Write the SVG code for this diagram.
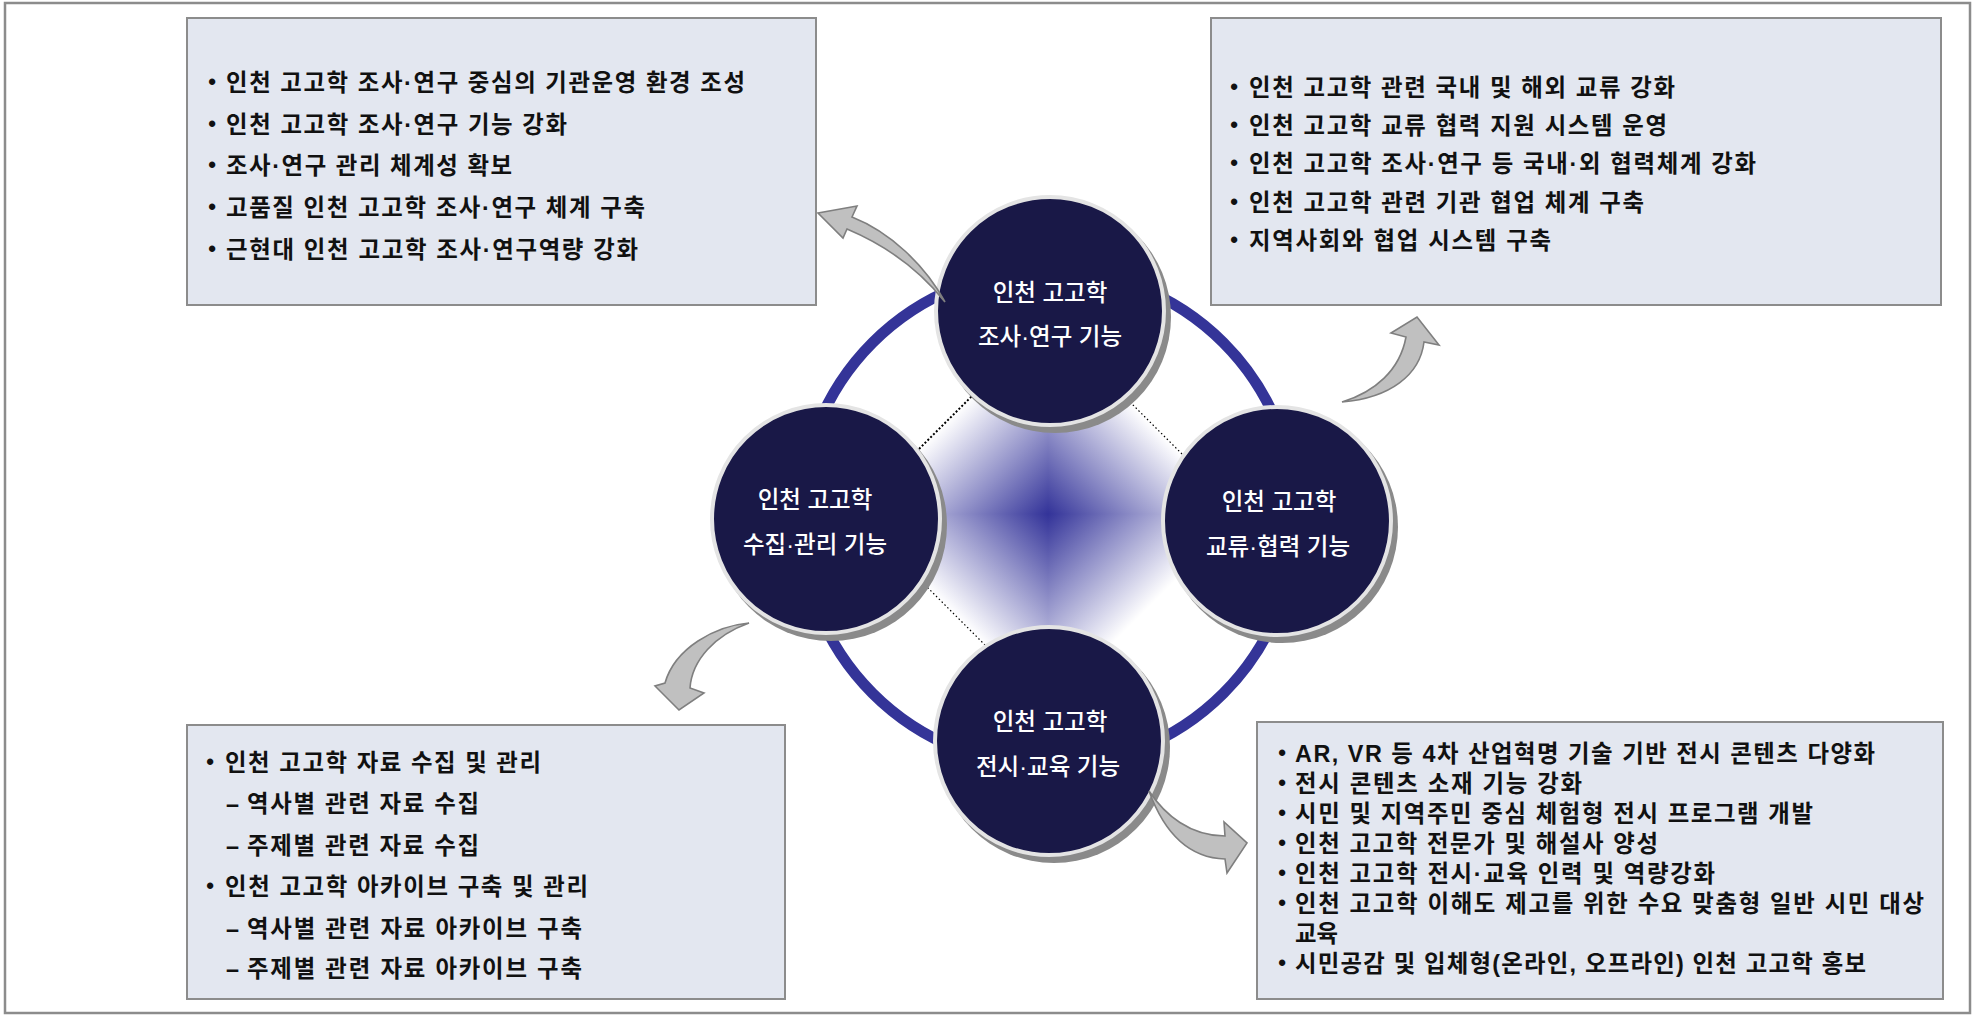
<svg xmlns="http://www.w3.org/2000/svg" width="1977" height="1016" viewBox="0 0 1977 1016">
<style>
.frame{fill:#ffffff;stroke:#8c8c8c;stroke-width:2.5}
.box{fill:#e3e7f0;stroke:#8c8c8c;stroke-width:2}
.bt{font-family:"Liberation Sans","Noto Sans CJK KR",sans-serif;font-size:23.4px;font-weight:700;fill:#111111}
.bul{font-family:"Liberation Sans",sans-serif;font-size:22px;font-weight:700;fill:#111111;text-anchor:middle}
.ct{font-family:"Liberation Sans","Noto Sans CJK KR",sans-serif;font-size:23.5px;font-weight:500;fill:#ffffff;text-anchor:middle}
.md{font-family:"Liberation Sans",sans-serif}
.shadow{fill:#8a8a8a}
.disc{fill:#191847;stroke:#e4e4e4;stroke-width:4}
.arrow{fill:#c0c0c0;stroke:#7f7f7f;stroke-width:1.6;stroke-linejoin:miter}
.ring{fill:none;stroke:#343498;stroke-width:11}
.dots{stroke:#000;fill:none}
</style>
<defs>
<linearGradient id="gT" gradientUnits="userSpaceOnUse" x1="0" y1="0" x2="0" y2="-137"><stop offset="0" stop-color="#333399"/><stop offset="0.45" stop-color="#9090c8"/><stop offset="1" stop-color="#ffffff"/></linearGradient>
<linearGradient id="gB" gradientUnits="userSpaceOnUse" x1="0" y1="0" x2="0" y2="137"><stop offset="0" stop-color="#333399"/><stop offset="0.45" stop-color="#9090c8"/><stop offset="1" stop-color="#ffffff"/></linearGradient>
<linearGradient id="gL" gradientUnits="userSpaceOnUse" x1="0" y1="0" x2="-137" y2="0"><stop offset="0" stop-color="#333399"/><stop offset="0.45" stop-color="#9090c8"/><stop offset="1" stop-color="#ffffff"/></linearGradient>
<linearGradient id="gR" gradientUnits="userSpaceOnUse" x1="0" y1="0" x2="137" y2="0"><stop offset="0" stop-color="#333399"/><stop offset="0.45" stop-color="#9090c8"/><stop offset="1" stop-color="#ffffff"/></linearGradient>
</defs>

<rect class="frame" x="5" y="3" width="1965" height="1010"/>

<g id="ring">
<circle class="ring" cx="1048" cy="518" r="248"/>
</g>

<g id="center-diamond">
<g transform="translate(1048,514) rotate(45)" shape-rendering="crispEdges">
<polygon points="0,0 -137,-137 137,-137" fill="url(#gT)"/>
<polygon points="0,0 137,-137 137,137" fill="url(#gR)"/>
<polygon points="0,0 137,137 -137,137" fill="url(#gB)"/>
<polygon points="0,0 -137,137 -137,-137" fill="url(#gL)"/>
</g>
<line class="dots" x1="854" y1="514" x2="1048" y2="320" stroke-width="2" stroke-dasharray="2 2"/>
<line class="dots" x1="1048" y1="320" x2="1242" y2="514" stroke-width="1.2" stroke-dasharray="1.5 2.5"/>
<line class="dots" x1="854" y1="514" x2="1048" y2="708" stroke-width="1.2" stroke-dasharray="1.5 2.5"/>
</g>

<g id="node-research">
<circle class="shadow" cx="1055" cy="317" r="116"/>
<circle class="disc" cx="1050" cy="311" r="114"/>
<text class="ct" x="1050" y="301">인천 고고학</text>
<text class="ct" x="1050" y="345">조사<tspan class="md">·</tspan>연구 기능</text>
</g>

<g id="node-collection">
<circle class="shadow" cx="831" cy="525" r="116"/>
<circle class="disc" cx="826" cy="519" r="114"/>
<text class="ct" x="815" y="508">인천 고고학</text>
<text class="ct" x="815" y="553">수집<tspan class="md">·</tspan>관리 기능</text>
</g>

<g id="node-exchange">
<circle class="shadow" cx="1282" cy="527" r="116"/>
<circle class="disc" cx="1277" cy="521" r="114"/>
<text class="ct" x="1279" y="510">인천 고고학</text>
<text class="ct" x="1278" y="555">교류<tspan class="md">·</tspan>협력 기능</text>
</g>

<g id="node-exhibition">
<circle class="shadow" cx="1054" cy="747" r="116"/>
<circle class="disc" cx="1049" cy="741" r="114"/>
<text class="ct" x="1050" y="730">인천 고고학</text>
<text class="ct" x="1048" y="775">전시<tspan class="md">·</tspan>교육 기능</text>
</g>

<g id="connectors">
<path class="arrow" d="M945,302 C925,265 890,232 852,217 L857,206 L818,213 L843,238 L847,229 C885,245 918,268 945,302 Z"/>
<path class="arrow" d="M1342,402 C1375,392 1400,370 1406,337 L1391,333 L1417,317 L1439,345 L1424,342 C1420,375 1390,398 1342,402 Z"/>
<path class="arrow" d="M749,623 C715,626 675,648 665,683 L655,686 L679,710 L704,693 L690,688 C692,660 715,635 749,623 Z"/>
<path class="arrow" d="M1149,791 C1165,815 1190,836 1225,836 L1224,822 L1247,843 L1227,873 L1225,859 C1190,858 1165,835 1149,791 Z"/>
</g>

<g id="box-research">
<rect class="box" x="187" y="18" width="629" height="287"/>
<text class="bul" x="212" y="89">•</text><text class="bt" x="226" y="91" textLength="519">인천 고고학 조사<tspan class="md">·</tspan>연구 중심의 기관운영 환경 조성</text>
<text class="bul" x="212" y="131">•</text><text class="bt" x="226" y="133" textLength="341">인천 고고학 조사<tspan class="md">·</tspan>연구 기능 강화</text>
<text class="bul" x="212" y="172">•</text><text class="bt" x="226" y="174" textLength="286">조사<tspan class="md">·</tspan>연구 관리 체계성 확보</text>
<text class="bul" x="212" y="214">•</text><text class="bt" x="226" y="216" textLength="419">고품질 인천 고고학 조사<tspan class="md">·</tspan>연구 체계 구축</text>
<text class="bul" x="212" y="256">•</text><text class="bt" x="226" y="258" textLength="412">근현대 인천 고고학 조사<tspan class="md">·</tspan>연구역량 강화</text>
</g>

<g id="box-exchange">
<rect class="box" x="1211" y="18" width="730" height="287"/>
<text class="bul" x="1234" y="94">•</text><text class="bt" x="1249" y="96" textLength="426">인천 고고학 관련 국내 및 해외 교류 강화</text>
<text class="bul" x="1234" y="132">•</text><text class="bt" x="1249" y="134" textLength="418">인천 고고학 교류 협력 지원 시스템 운영</text>
<text class="bul" x="1234" y="170">•</text><text class="bt" x="1249" y="172" textLength="507">인천 고고학 조사<tspan class="md">·</tspan>연구 등 국내<tspan class="md">·</tspan>외 협력체계 강화</text>
<text class="bul" x="1234" y="209">•</text><text class="bt" x="1249" y="211" textLength="395">인천 고고학 관련 기관 협업 체계 구축</text>
<text class="bul" x="1234" y="247">•</text><text class="bt" x="1249" y="249" textLength="302">지역사회와 협업 시스템 구축</text>
</g>

<g id="box-collection">
<rect class="box" x="187" y="725" width="598" height="274"/>
<text class="bul" x="210" y="769">•</text><text class="bt" x="225" y="771" textLength="316">인천 고고학 자료 수집 및 관리</text>
<text class="bt" x="226" y="812">–</text><text class="bt" x="247" y="812" textLength="232">역사별 관련 자료 수집</text>
<text class="bt" x="226" y="854">–</text><text class="bt" x="247" y="854" textLength="232">주제별 관련 자료 수집</text>
<text class="bul" x="210" y="893">•</text><text class="bt" x="225" y="895" textLength="363">인천 고고학 아카이브 구축 및 관리</text>
<text class="bt" x="226" y="937">–</text><text class="bt" x="247" y="937" textLength="335">역사별 관련 자료 아카이브 구축</text>
<text class="bt" x="226" y="977">–</text><text class="bt" x="247" y="977" textLength="335">주제별 관련 자료 아카이브 구축</text>
</g>

<g id="box-exhibition">
<rect class="box" x="1257" y="722" width="686" height="277"/>
<text class="bul" x="1282" y="760">•</text><text class="bt" x="1295" y="762" textLength="580">AR, VR 등 4차 산업혁명 기술 기반 전시 콘텐츠 다양화</text>
<text class="bul" x="1282" y="790">•</text><text class="bt" x="1295" y="792" textLength="287">전시 콘텐츠 소재 기능 강화</text>
<text class="bul" x="1282" y="820">•</text><text class="bt" x="1295" y="822" textLength="518">시민 및 지역주민 중심 체험형 전시 프로그램 개발</text>
<text class="bul" x="1282" y="850">•</text><text class="bt" x="1295" y="852" textLength="363">인천 고고학 전문가 및 해설사 양성</text>
<text class="bul" x="1282" y="880">•</text><text class="bt" x="1295" y="882" textLength="420">인천 고고학 전시<tspan class="md">·</tspan>교육 인력 및 역량강화</text>
<text class="bul" x="1282" y="910">•</text><text class="bt" x="1295" y="912" textLength="629">인천 고고학 이해도 제고를 위한 수요 맞춤형 일반 시민 대상</text>
<text class="bt" x="1295" y="942">교육</text>
<text class="bul" x="1282" y="970">•</text><text class="bt" x="1295" y="972" textLength="571">시민공감 및 입체형(온라인, 오프라인) 인천 고고학 홍보</text>
</g>
</svg>
